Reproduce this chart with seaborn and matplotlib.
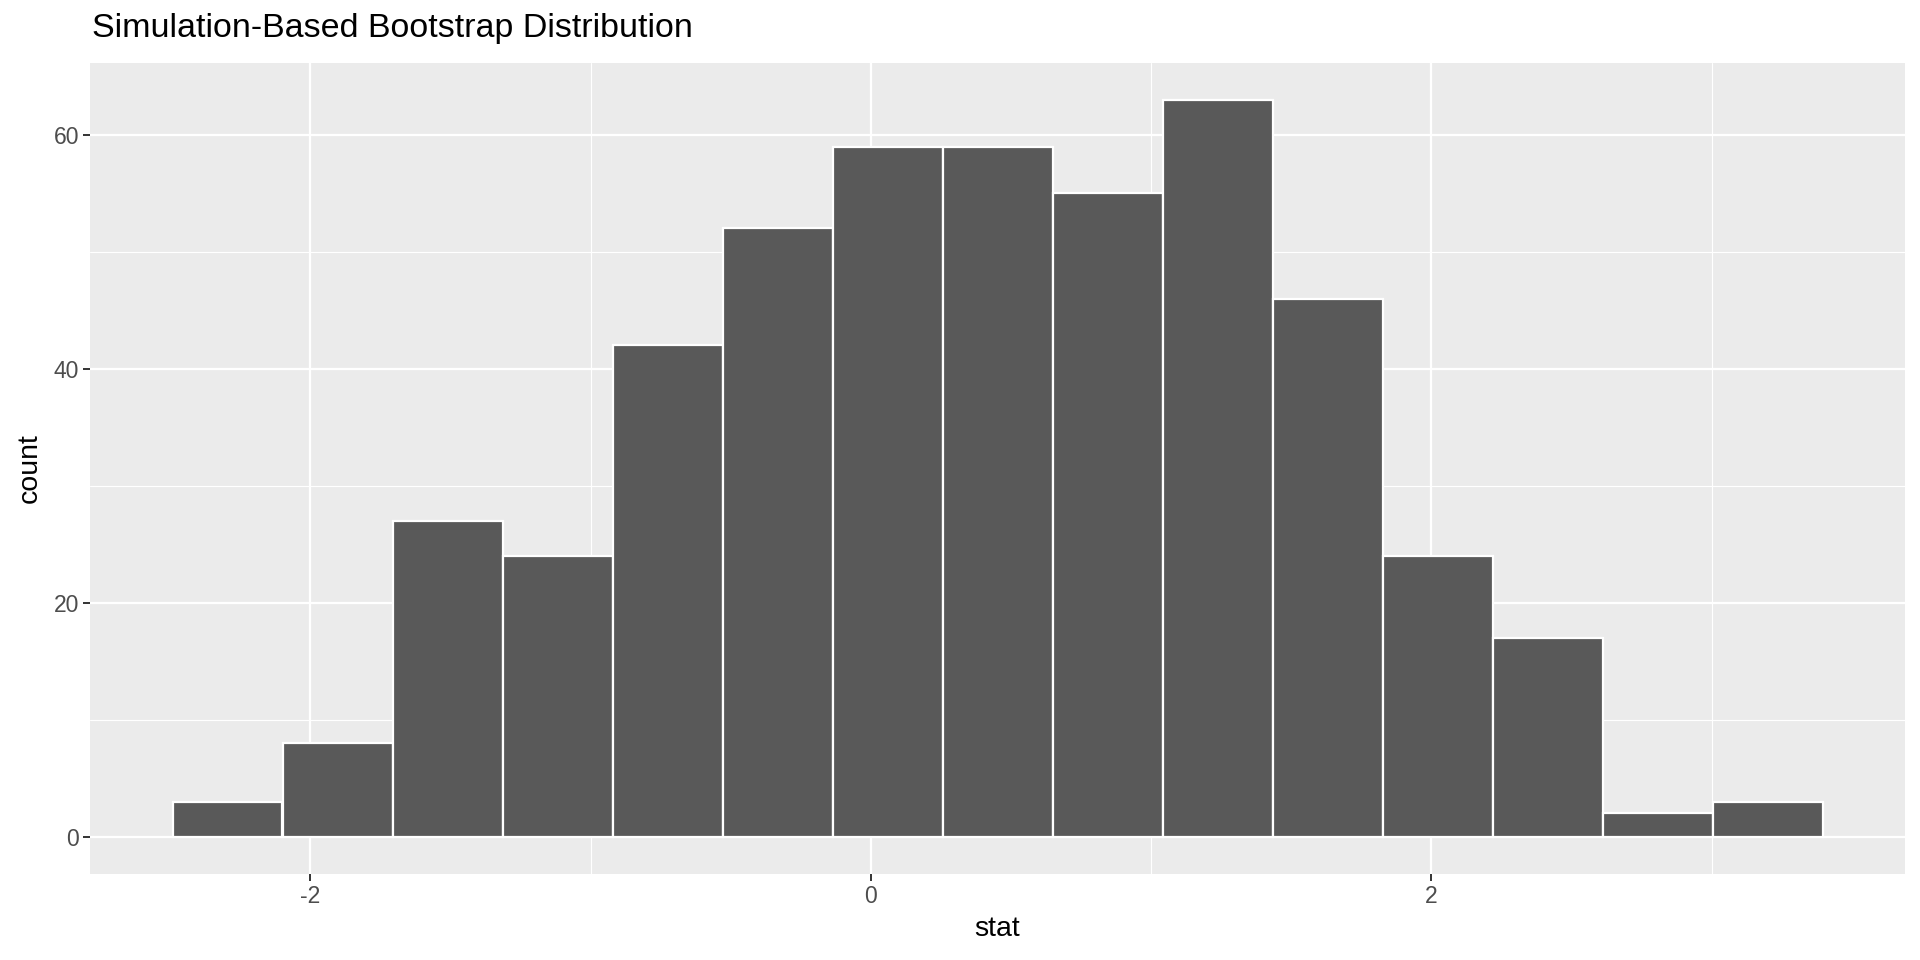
import numpy as np
import matplotlib
matplotlib.use("Agg")
import matplotlib.pyplot as plt
import seaborn as sns
import pandas as pd

# Histogram: 15 bins, counts per bin
bin_lo = -2.492
bin_hi = 3.396
n_bins = 15
counts = [3, 8, 27, 24, 42, 52, 59, 59, 55, 63, 46, 24, 17, 2, 3]

x_ticks = [-2, 0, 2]
y_ticks = [0, 20, 40, 60]

title = "Simulation-Based Bootstrap Distribution"
x_label = "stat"
y_label = "count"

# bin centres carry the counts as weights
edges = np.linspace(bin_lo, bin_hi, n_bins + 1)
df = pd.DataFrame({"stat": (edges[:-1] + edges[1:]) / 2, "n": counts})

sns.set_theme(style="darkgrid")
plt.rcParams['font.family'] = ['Liberation Sans', 'DejaVu Sans']

fig = plt.figure(figsize=(19.2, 9.6), dpi=100)
ax = fig.add_axes([90 / 1920, 1 - 873.5 / 960, (1905 - 90) / 1920, (873.5 - 63) / 960])
ax.set_facecolor("#EBEBEB")

sns.histplot(data=df, x="stat", weights="n", bins=n_bins, binrange=(bin_lo, bin_hi),
             ax=ax, color="#595959", edgecolor="white", linewidth=1.6, alpha=1)

ax.set_xticks(x_ticks)
ax.set_yticks(y_ticks)
ax.set_xticks([-3, -1, 1, 3], minor=True)
ax.set_yticks([10, 30, 50], minor=True)
ax.set_xticklabels([str(t) for t in x_ticks])
ax.set_yticklabels([str(t) for t in y_ticks])

# ggplot style expansion (5%), set after the ticks so they don't widen it
span = bin_hi - bin_lo
ax.set_xlim(bin_lo - 0.05 * span, bin_hi + 0.05 * span)
ymax = max(counts)
ax.set_ylim(-0.05 * ymax, ymax * 1.05)

ax.grid(which="major", color="white", linewidth=1.6)
ax.grid(which="minor", color="white", linewidth=0.8)
ax.set_axisbelow(True)
for s in ax.spines.values():
    s.set_visible(False)

ax.tick_params(axis="both", which="major", length=5, width=1.4, color="#333333",
               labelcolor="#4D4D4D", labelsize=16.5, pad=3, direction="out",
               bottom=True, left=True)
ax.tick_params(axis="both", which="minor", length=0)

ax.set_xlabel(x_label, fontsize=20.5, color="black", labelpad=6)
ax.set_ylabel(y_label, fontsize=20.5, color="black", labelpad=8)
fig.text(92 / 1920, 1 - 28 / 960, title, fontsize=24.5, color="black",
         ha="left", va="center")

fig.savefig("out.png", dpi=100)
